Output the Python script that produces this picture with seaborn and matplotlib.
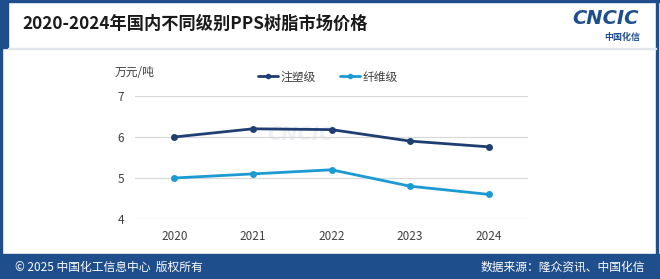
import matplotlib
matplotlib.use("Agg")
import matplotlib.pyplot as plt
import seaborn as sns
import pandas as pd
from matplotlib.patches import Rectangle

sns.set_theme(style="white")
plt.rcParams['font.family'] = ['Noto Sans CJK SC', 'DejaVu Sans']

## data
years = ["2020", "2021", "2022", "2023", "2024"]
injection = [6.0, 6.2, 6.18, 5.9, 5.76]
fiber = [5.0, 5.1, 5.2, 4.8, 4.6]
series_names = ["注塑级", "纤维级"]
colors = ["#1f3f73", "#1c9ad2"]

df = pd.DataFrame({
    "year": years * 2,
    "price": injection + fiber,
    "grade": [series_names[0]] * 5 + [series_names[1]] * 5,
})

fig = plt.figure(figsize=(6.6, 2.79), dpi=100)
fig.patch.set_facecolor("white")

## frame: top line, left stripe, right line, footer band
blue = "#1f4e8c"
fig.add_artist(Rectangle((0, 1 - 2 / 279), 1, 2 / 279, transform=fig.transFigure, color=blue, zorder=0))
fig.add_artist(Rectangle((0, 1 - 48 / 279), 8 / 660, 48 / 279, transform=fig.transFigure, color=blue, zorder=0))
fig.add_artist(Rectangle((0, 0), 2 / 660, 1, transform=fig.transFigure, color=blue, zorder=0))
fig.add_artist(Rectangle((1 - 4 / 660, 0), 2 / 660, 1, transform=fig.transFigure, color=blue, zorder=0))
fig.add_artist(Rectangle((0, 0), 1, 25 / 279, transform=fig.transFigure, color=blue, zorder=0))
## separator under the title
fig.add_artist(Rectangle((8 / 660, 1 - 49 / 279), 1 - 12 / 660, 1 / 279, transform=fig.transFigure, color="#e3e6ea", zorder=0))

ax = fig.add_axes([135 / 660, 60 / 279, 393 / 660, 123 / 279])

## faint watermark behind the lines
ax.text(0.42, 0.69, "CNCIC", transform=ax.transAxes, fontsize=14, color="#eef1f5",
        fontweight="bold", style="italic", ha="center", va="center", zorder=0,
        family=["DejaVu Sans"])

sns.lineplot(data=df, x="year", y="price", hue="grade", palette=colors,
             marker="o", markersize=5, markeredgewidth=0, linewidth=2, ax=ax, sort=False)

ax.set_ylim(4, 7)
ax.set_yticks([4, 5, 6, 7])
ax.set_xlim(-0.5, 4.5)
ax.grid(axis="y", color="#d9d9d9", linewidth=0.9)
ax.set_axisbelow(True)
for s in ax.spines.values():
    s.set_visible(False)
ax.tick_params(axis="both", length=0, labelsize=8.5, labelcolor="#404040", pad=8)
ax.set_xlabel("")
ax.set_ylabel("")

handles, labels = ax.get_legend_handles_labels()
for h in handles:
    h.set_markersize(4)
ax.legend(handles, labels, ncol=2, frameon=False, fontsize=8.5,
          loc="center", bbox_to_anchor=(328 / 660, 1 - 77 / 279),
          bbox_transform=fig.transFigure, columnspacing=2.1, handlelength=1.7,
          handletextpad=0.2, labelcolor="#404040")

fig.text(115 / 660, 1 - 72 / 279, "万元/吨", fontsize=8.5, color="#404040", va="center")

## title and logo
fig.text(22 / 660, 1 - 24 / 279, "2020-2024年国内不同级别PPS树脂市场价格", fontsize=12.4,
         fontweight="bold", color="#1a1a1a", va="center")
fig.text(605 / 660, 1 - 19 / 279, "CNCIC", fontsize=14, fontweight="heavy", style="italic",
         color="#1f4e8c", ha="center", va="center", family=["DejaVu Sans"])
fig.text(622 / 660, 1 - 37 / 279, "中国化信", fontsize=6.5, fontweight="bold",
         color="#1f4e8c", ha="center", va="center")

## footer
fig.text(15 / 660, 12 / 279, "© 2025 中国化工信息中心  版权所有", fontsize=8.5, color="white", va="center")
fig.text(645 / 660, 12 / 279, "数据来源：隆众资讯、中国化信", fontsize=8.5, color="white",
         va="center", ha="right")

fig.savefig("out.png", dpi=100)
